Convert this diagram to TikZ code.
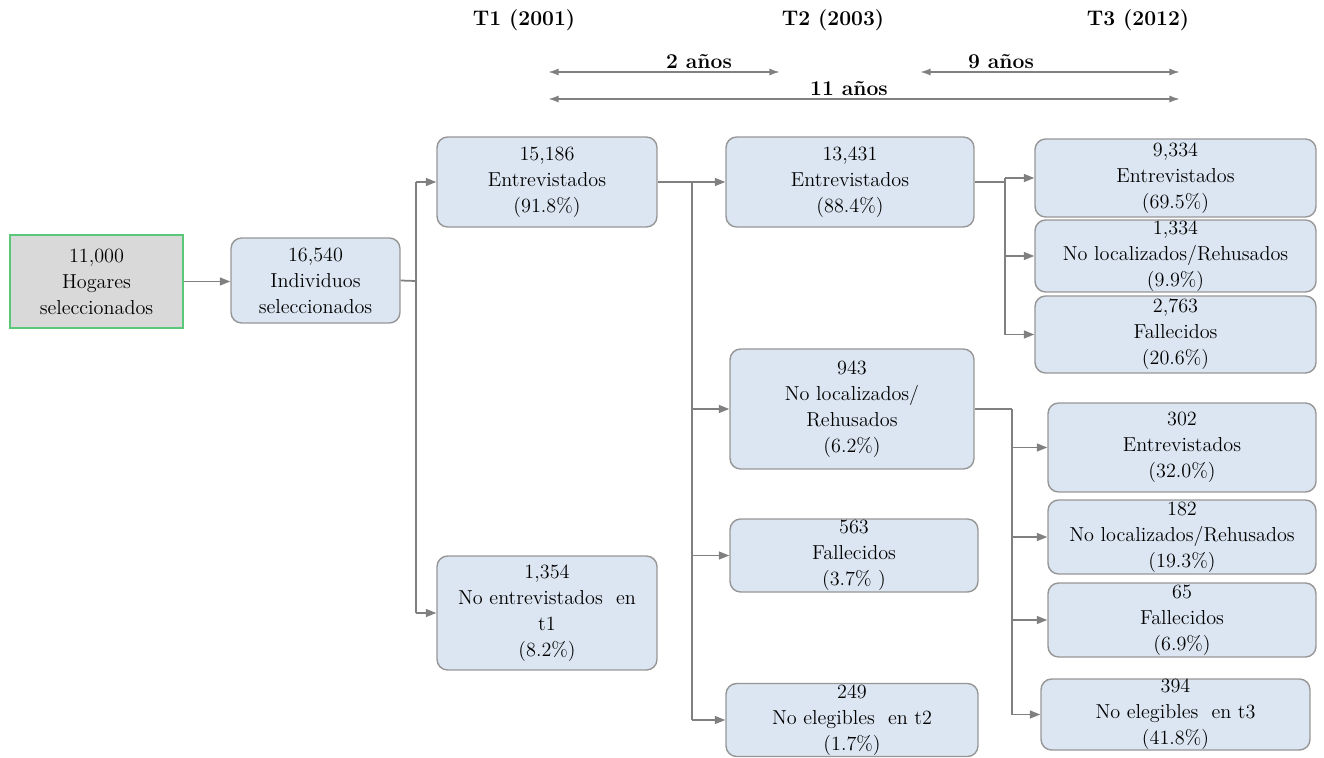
\documentclass[tikz,border=0pt]{standalone}
\usetikzlibrary{arrows.meta}
\definecolor{boxblue}{RGB}{220,230,242}
\definecolor{boxgray}{RGB}{217,217,217}
\definecolor{edgegray}{RGB}{150,150,150}
\definecolor{linegray}{RGB}{128,128,128}
\definecolor{hgreen}{RGB}{90,200,120}
\tikzstyle{bx} = [draw=edgegray, fill=boxblue, rectangle, rounded corners=6pt, thick, align=center, inner sep=0pt, font=\rmfamily\fontsize{11.5}{14.8}\selectfont]
\tikzstyle{hg} = [draw=hgreen, fill=boxgray, rectangle, thick, align=center, inner sep=0pt, font=\rmfamily\fontsize{11.5}{14.8}\selectfont]
\tikzstyle{ln} = [draw=linegray, line width=1pt]
\tikzstyle{ar} = [ln, -{Triangle[length=6pt,width=4.5pt]}]
\tikzstyle{span} = [ln, {Latex[length=6pt,width=4pt]}-{Latex[length=6pt,width=4pt]}]
\tikzstyle{ttl} = [font=\rmfamily\bfseries\fontsize{12}{14}\selectfont]

\begin{document}
\begin{tikzpicture}[x=0.02cm, y=-0.02cm]
	
	\useasboundingbox (0,0) rectangle (1324,757);
	
	% time axis
	\node [ttl] (t1) at (524,20) {T1 (2001)};
	\node [ttl] (t2) at (833,20) {T2 (2003)};
	\node [ttl] (t3) at (1138,20) {T3 (2012)};
	\coordinate (a1) at (548,72);
	\coordinate (a2) at (780,72);
	\coordinate (a3) at (920,72);
	\coordinate (a4) at (1180,72);
	\coordinate (b1) at (548,99);
	\coordinate (b2) at (1180,99);
	\draw [span] (a1) -- (a2);
	\draw [span] (a3) -- (a4);
	\draw [span] (b1) -- (b2);
	\node [ttl] (y2) at (699,62) {2 años};
	\node [ttl] (y9) at (1001,62) {9 años};
	\node [ttl] (y11) at (849,89) {11 años};
	
	% boxes
	\node [hg, minimum width=3.46cm, minimum height=1.86cm] (hog) at (96.5,281.5) {11,000\\Hogares\\seleccionados};
	\node [bx, minimum width=3.38cm, minimum height=1.7cm] (ind) at (315.5,280.5) {16,540\\Individuos\\seleccionados};
	\node [bx, minimum width=4.4cm, minimum height=1.8cm] (e1) at (547,182) {15,186\\Entrevistados\\(91.8\%)};
	\node [bx, minimum width=4.4cm, minimum height=2.28cm] (ne1) at (547,613) {1,354\\No entrevistados\ \ en\\t1\\(8.2\%)};
	\node [bx, minimum width=4.96cm, minimum height=1.8cm] (e2) at (850,182) {13,431\\Entrevistados\\(88.4\%)};
	\node [bx, minimum width=4.88cm, minimum height=2.4cm] (nl2) at (852,409) {943\\No localizados/\\Rehusados\\(6.2\%)};
	\node [bx, minimum width=4.96cm, minimum height=1.46cm] (f2) at (854,555.5) {563\\Fallecidos\\(3.7\% )};
	\node [bx, minimum width=5.04cm, minimum height=1.46cm] (ng2) at (852,720) {249\\No elegibles\ \ en t2\\(1.7\%)};
	\node [bx, minimum width=5.62cm, minimum height=1.56cm] (e3) at (1175.5,178) {9,334\\Entrevistados\\(69.5\%)};
	\node [bx, minimum width=5.62cm, minimum height=1.44cm] (nl3) at (1175.5,256) {1,334\\No localizados/Rehusados\\(9.9\%)};
	\node [bx, minimum width=5.62cm, minimum height=1.54cm] (f3) at (1175.5,334.5) {2,763\\Fallecidos\\(20.6\%)};
	\node [bx, minimum width=5.36cm, minimum height=1.78cm] (e3b) at (1182,447.5) {302\\Entrevistados\\(32.0\%)};
	\node [bx, minimum width=5.36cm, minimum height=1.48cm] (nl3b) at (1182,537) {182\\No localizados/Rehusados\\(19.3\%)};
	\node [bx, minimum width=5.36cm, minimum height=1.48cm] (f3b) at (1182,620) {65\\Fallecidos\\(6.9\%)};
	\node [bx, minimum width=5.38cm, minimum height=1.42cm] (ng3b) at (1175.5,714.5) {394\\No elegibles\ \ en t3\\(41.8\%)};
	
	% connectors
	\draw [ar] (hog.east) -- (hog.east -| ind.west);
	\coordinate (j1) at (416,281);
	\draw [ln] (ind.east) -- (j1);
	\draw [ln] (j1 |- e1) -- (j1 |- ne1);
	\draw [ar] (j1 |- e1) -- (e1);
	\draw [ar] (j1 |- ne1) -- (ne1);
	
	\coordinate (j2) at (692,182);
	\draw [ln] (e1.east) -- (j2);
	\draw [ln] (j2) -- (j2 |- ng2);
	\draw [ar] (j2) -- (e2);
	\draw [ar] (j2 |- nl2) -- (nl2);
	\draw [ar] (j2 |- f2) -- (f2);
	\draw [ar] (j2 |- ng2) -- (ng2);
	
	\coordinate (j3) at (1005,182);
	\draw [ln] (e2.east) -- (j3);
	\draw [ln] (j3 |- e3) -- (j3 |- f3);
	\draw [ar] (j3 |- e3) -- (e3);
	\draw [ar] (j3 |- nl3) -- (nl3);
	\draw [ar] (j3 |- f3) -- (f3);
	
	\coordinate (j4) at (1012,409);
	\draw [ln] (nl2.east) -- (j4);
	\draw [ln] (j4) -- (j4 |- ng3b);
	\draw [ar] (j4 |- e3b) -- (e3b);
	\draw [ar] (j4 |- nl3b) -- (nl3b);
	\draw [ar] (j4 |- f3b) -- (f3b);
	\draw [ar] (j4 |- ng3b) -- (ng3b);
\end{tikzpicture}
\end{document}
